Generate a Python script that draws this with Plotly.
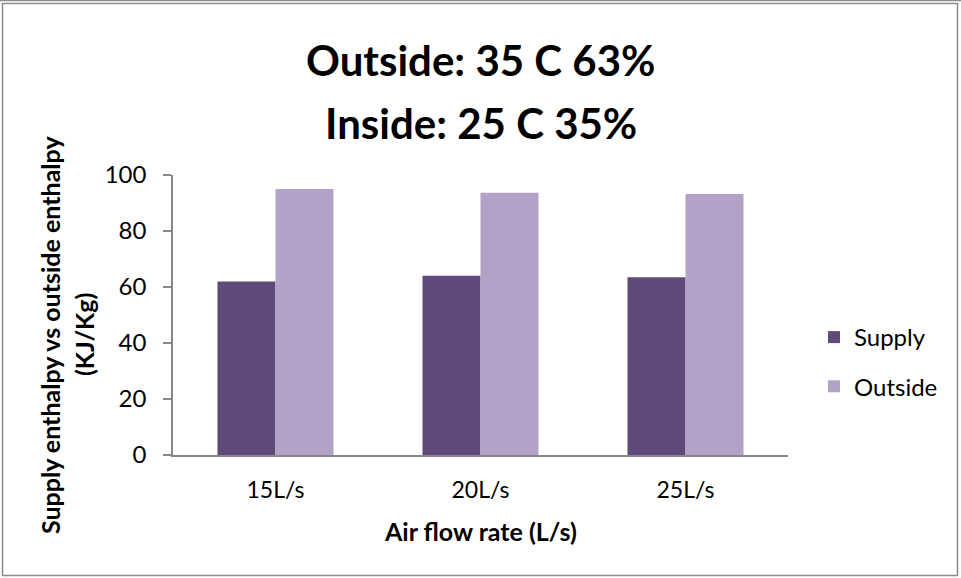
import plotly.graph_objects as go

categories = ["15L/s", "20L/s", "25L/s"]
supply = [62, 64, 63.5]
outside = [95, 93.7, 93.2]
y_ticks = [0, 20, 40, 60, 80, 100]

FONT = "Lato"
W, H = 961, 578
L, R, T, B = 173, 788, 175, 455

def px_x(p):
    return (p - L) / (R - L)

def px_y(p):
    return (B - p) / (B - T)

fig = go.Figure()
fig.add_trace(go.Bar(name="Supply", x=categories, y=supply, marker_color="#604A7B",
                     marker_line_width=0, legendgroup="a"))
fig.add_trace(go.Bar(name="Outside", x=categories, y=outside, marker_color="#B3A2C7",
                     marker_line_width=0, legendgroup="b"))

fig.update_layout(
    width=W, height=H,
    margin=dict(l=L, r=W - R, t=T, b=H - B, pad=0),
    paper_bgcolor="white", plot_bgcolor="white",
    font=dict(family=FONT, size=23, color="black"),
    barmode="group", bargap=0.434, bargroupgap=0,
    showlegend=True,
    legend=dict(xref="container", yref="container", x=814 / W, y=1 - 315 / H,
                xanchor="left", yanchor="top", font=dict(family=FONT, size=24),
                traceorder="grouped", tracegroupgap=15, bgcolor="rgba(0,0,0,0)"),
    xaxis=dict(showline=True, linecolor="#878787", linewidth=1.5, ticks="",
               showgrid=False, zeroline=False, tickfont=dict(size=23),
               ticklabelstandoff=14),
    yaxis=dict(range=[0, 100], tickvals=y_ticks, showline=True, linecolor="#878787",
               linewidth=1.5, ticks="outside", ticklen=8, tickcolor="#878787",
               tickwidth=1.5, showgrid=False, zeroline=False,
               tickfont=dict(size=24), ticklabelstandoff=12),
)

annotations = [
    dict(text="<b>Outside: 35 C 63%</b>", x=0.5, y=px_y(60), font=dict(size=42)),
    dict(text="<b>Inside: 25 C 35%</b>", x=0.5, y=px_y(123), font=dict(size=42)),
    dict(text="<b>Air flow rate (L/s)</b>", x=0.5, y=px_y(531), font=dict(size=25)),
    dict(text="<b>Supply enthalpy vs outside enthalpy</b>", x=px_x(50), y=px_y(335),
         textangle=-90, font=dict(size=25)),
    dict(text="<b>(KJ/Kg)</b>", x=px_x(84), y=px_y(335), textangle=-90, font=dict(size=25)),
]
for a in annotations:
    a.update(xref="paper", yref="paper", showarrow=False, xanchor="center", yanchor="middle")
    fig.add_annotation(**a)

fig.add_shape(type="rect", xref="paper", yref="paper",
              x0=px_x(2.5), x1=px_x(957.5), y0=px_y(575.5), y1=px_y(3.5),
              line=dict(color="#8c8c8c", width=1.5), layer="below")
fig.add_shape(type="line", xref="paper", yref="paper",
              x0=px_x(0), x1=px_x(961), y0=px_y(0.5), y1=px_y(0.5),
              line=dict(color="#8c8c8c", width=1.5), layer="below")

fig.write_html("out.html", config={"displayModeBar": False},
               post_script="document.body.style.margin='0';document.body.style.overflow='hidden';")
